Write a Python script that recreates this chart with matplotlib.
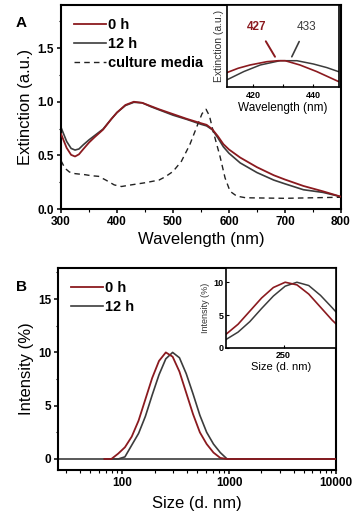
import numpy as np
import matplotlib
matplotlib.use("Agg")
import matplotlib.pyplot as plt
from matplotlib.ticker import MultipleLocator, FixedLocator, NullFormatter, NullLocator, FixedFormatter

plt.rcParams['font.family'] = ['Liberation Sans', 'DejaVu Sans']

red = '#8b1a1f'
grey = '#3c3c3c'

# panel A: extinction spectra
wl = [300, 310, 318, 325, 332, 340, 350, 360, 375, 390, 400, 415, 430, 445, 460, 475,
      500, 525, 550, 560, 570, 580, 590, 600, 620, 650, 680, 700, 733, 768, 800]
ext_0h = [0.70, 0.57, 0.505, 0.49, 0.51, 0.56, 0.62, 0.67, 0.74, 0.84, 0.90, 0.97, 1.00, 0.99, 0.96, 0.93,
          0.885, 0.84, 0.80, 0.785, 0.745, 0.68, 0.605, 0.555, 0.48, 0.39, 0.315, 0.275, 0.215, 0.165, 0.115]
ext_12h = [0.76, 0.63, 0.565, 0.55, 0.56, 0.60, 0.645, 0.685, 0.745, 0.84, 0.90, 0.965, 0.995, 0.99, 0.955, 0.925,
           0.875, 0.835, 0.79, 0.775, 0.74, 0.665, 0.58, 0.52, 0.43, 0.34, 0.27, 0.235, 0.18, 0.155, 0.115]
wl_media = [300, 307, 315, 325, 343, 355, 367, 380, 395, 408, 425, 450, 475, 486, 500, 515, 530, 545,
            552, 559, 565, 572, 584, 593, 602, 614, 630, 700, 800]
ext_media = [0.45, 0.38, 0.345, 0.33, 0.32, 0.31, 0.305, 0.27, 0.225, 0.21, 0.225, 0.245, 0.27, 0.30, 0.35, 0.445,
             0.60, 0.80, 0.89, 0.93, 0.87, 0.72, 0.49, 0.29, 0.165, 0.12, 0.105, 0.10, 0.11]

# inset A (zoom on the peak)
wl_in0 = [411.3, 415, 419, 424.6, 428.4, 430.7, 435.6, 441.2, 448.4]
ext_in0 = [0.982, 0.9885, 0.9935, 0.9985, 1.0, 1.0, 0.9935, 0.9835, 0.9685]
wl_in12 = [411.3, 416.9, 422.4, 429, 434.6, 440.1, 444.6, 448.4]
ext_in12 = [0.971, 0.9835, 0.9935, 1.0, 1.0, 0.995, 0.9895, 0.9835]

# panel B: DLS size distribution
size = [68.06, 78.82, 91.28, 105.7, 122.4, 141.8, 164.2, 190.1, 220.2, 255.0, 295.3, 342.0,
        396.1, 458.7, 531.2, 615.1, 712.4, 825.0, 955.4, 1106, 10000]
int_0h = [0, 0, 0.5, 1.1, 2.1, 3.6, 5.6, 7.6, 9.2, 10.0, 9.6, 8.2, 6.2, 4.2, 2.5, 1.4, 0.6, 0.1, 0, 0, 0]
int_12h = [0, 0, 0, 0.2, 1.3, 2.4, 4.0, 6.0, 7.9, 9.4, 10.0, 9.5, 8.0, 6.1, 4.1, 2.5, 1.4, 0.6, 0, 0, 0]

fig = plt.figure(figsize=(3.57, 5.2), dpi=100)


def style(ax, lw=1.5):
    for s in ax.spines.values():
        s.set_linewidth(lw)
    ax.tick_params(which='major', direction='out', length=3, width=1.1, pad=2)
    ax.tick_params(which='minor', direction='out', length=1.8, width=0.8)


def bold_ticks(ax, size):
    for t in ax.get_xticklabels() + ax.get_yticklabels():
        t.set_fontsize(size)
        t.set_fontweight('bold')


# ---- panel A ----
axA = fig.add_axes([0.171, 0.598, 0.784, 0.392])
axA.plot(wl, ext_0h, color=red, lw=1.3, label='0 h', zorder=3)
axA.plot(wl, ext_12h, color=grey, lw=1.2, label='12 h')
axA.plot(wl_media, ext_media, color='#222222', lw=1.0, ls=(0, (4, 3)), label='culture media')
axA.set_xlim(300, 800)
axA.set_ylim(0, 1.9)
axA.xaxis.set_major_locator(MultipleLocator(100))
axA.xaxis.set_minor_locator(MultipleLocator(50))
axA.yaxis.set_major_locator(FixedLocator([0, 0.5, 1.0, 1.5]))
axA.yaxis.set_minor_locator(MultipleLocator(0.25))
axA.set_yticklabels(['0.0', '0.5', '1.0', '1.5'])
style(axA)
bold_ticks(axA, 8.5)
axA.set_xlabel('Wavelength (nm)', fontsize=12, labelpad=3)
axA.set_ylabel('Extinction (a.u.)', fontsize=12, labelpad=3)
axA.legend(loc='upper left', frameon=False, prop=dict(size=10.5, weight='bold'),
           handlelength=2.2, handletextpad=0.15, labelspacing=0.33,
           borderaxespad=0.5, bbox_to_anchor=(0.0, 1.0))
fig.text(0.045, 0.948, 'A', fontsize=11, fontweight='bold')

# inset A
inA = fig.add_axes([0.636, 0.8327, 0.314, 0.158])
inA.plot(wl_in12, ext_in12, color=grey, lw=1.1)
inA.plot(wl_in0, ext_in0, color=red, lw=1.2)
inA.set_xlim(411.3, 448.7)
inA.set_ylim(0.96, 1.085)
inA.xaxis.set_major_locator(FixedLocator([420, 440]))
inA.xaxis.set_minor_locator(FixedLocator([430]))
inA.yaxis.set_major_locator(NullLocator())
style(inA, lw=1.2)
inA.tick_params(which='both', direction='in', length=2.5, width=0.8, pad=3)
bold_ticks(inA, 6.5)
inA.set_xlabel('Wavelength (nm)', fontsize=8.5, labelpad=1)
inA.set_ylabel('Extinction (a.u.)', fontsize=7.5, labelpad=2, color='#333333')
inA.annotate('427', xy=(427.3, 1.006), xytext=(421.3, 1.052), color=red,
             fontsize=8.5, fontweight='bold', ha='center', va='center',
             arrowprops=dict(arrowstyle='-', color=red, lw=1.4, shrinkA=5, shrinkB=0))
inA.annotate('433', xy=(432.9, 1.006), xytext=(437.8, 1.052), color=grey,
             fontsize=8.5, ha='center', va='center',
             arrowprops=dict(arrowstyle='-', color=grey, lw=1.2, shrinkA=5, shrinkB=0))

# ---- panel B ----
axB = fig.add_axes([0.1625, 0.0962, 0.779, 0.388])
axB.plot(size, int_0h, color=red, lw=1.3, label='0 h', zorder=3)
axB.plot(size, int_12h, color=grey, lw=1.2, label='12 h')
axB.plot([25, 10000], [0, 0], color=grey, lw=1.2)
axB.set_xscale('log')
axB.set_xlim(25, 10000)
axB.set_ylim(-1.03, 17.9)
axB.xaxis.set_major_locator(FixedLocator([100, 1000, 10000]))
axB.xaxis.set_major_formatter(FixedFormatter(['100', '1000', '10000']))
axB.yaxis.set_major_locator(FixedLocator([0, 5, 10, 15]))
axB.yaxis.set_minor_locator(MultipleLocator(2.5))
axB.set_yticklabels(['0', '5', '10', '15'])
style(axB)
bold_ticks(axB, 8.5)
axB.set_xlabel('Size (d. nm)', fontsize=12, labelpad=5)
axB.set_ylabel('Intensity (%)', fontsize=12, labelpad=3)
axB.legend(loc='upper left', frameon=False, prop=dict(size=10.5, weight='bold'),
           handlelength=2.2, handletextpad=0.15, labelspacing=0.33,
           borderaxespad=0.5)
fig.text(0.045, 0.44, 'B', fontsize=11, fontweight='bold')

# inset B
inB = fig.add_axes([0.633, 0.331, 0.308, 0.154])
inB.plot(size, int_12h, color=grey, lw=1.1)
inB.plot(size, int_0h, color=red, lw=1.2)
inB.set_xscale('log')
inB.set_xlim(122, 480)
inB.set_ylim(0, 12.2)
inB.xaxis.set_major_locator(FixedLocator([250]))
inB.xaxis.set_minor_locator(NullLocator())
inB.xaxis.set_major_formatter(FixedFormatter(['250']))
inB.xaxis.set_minor_formatter(NullFormatter())
inB.yaxis.set_major_locator(FixedLocator([0, 5, 10]))
style(inB, lw=1.2)
inB.tick_params(which='both', direction='in', length=2.5, width=0.8, pad=2)
bold_ticks(inB, 6.5)
inB.set_xlabel('Size (d. nm)', fontsize=8, labelpad=2)
inB.set_ylabel('Intensity (%)', fontsize=6.5, labelpad=2, color='#333333')

fig.savefig('out.png', dpi=100)
